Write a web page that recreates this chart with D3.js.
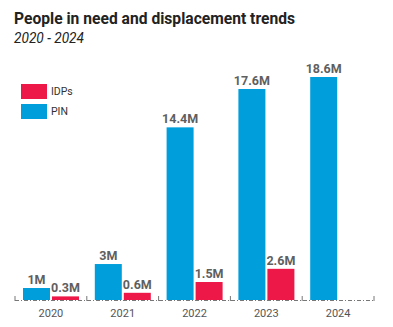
<!DOCTYPE html>
<html>
<head>
<meta charset="utf-8">
<script src="https://cdn.jsdelivr.net/npm/d3@7"></script>
<style>
  body { margin: 0; background: #fff; }
  svg { font-family: Roboto, "Liberation Sans", sans-serif; }
</style>
</head>
<body>
<svg id="svg" width="393" height="327"></svg>
<script>
const years = ['2020', '2021', '2022', '2023', '2024'];
const pin = [1, 3, 14.4, 17.6, 18.6];
const idps = [0.3, 0.6, 1.5, 2.6, null];
const pinLabels = ['1M', '3M', '14.4M', '17.6M', '18.6M'];
const idpLabels = ['0.3M', '0.6M', '1.5M', '2.6M', ''];

const blue = '#009edb';
const red = '#ed1847';

const svg = d3.select('#svg');

// title
svg.append('text')
    .attr('x', 14)
    .attr('y', 24)
    .attr('textLength', 281)
    .attr('lengthAdjust', 'spacingAndGlyphs')
    .style('font-size', '17px')
    .style('font-weight', 'bold')
    .style('fill', '#222')
    .text('People in need and displacement trends');

svg.append('text')
    .attr('x', 14)
    .attr('y', 43)
    .attr('textLength', 70)
    .attr('lengthAdjust', 'spacingAndGlyphs')
    .style('font-size', '14px')
    .style('font-style', 'italic')
    .style('fill', '#222')
    .text('2020 - 2024');

// scales
const baseline = 300;
const x = d3.scaleBand()
    .domain(years)
    .range([15, 374]);

const y = d3.scaleLinear()
    .domain([0, 18.6])
    .range([baseline, 77]);

const barW = 27;
const pinX = d => x(d) + 8;
const idpX = d => x(d) + 37;

// bars
svg.selectAll('.pin')
    .data(years)
    .enter().append('rect')
    .attr('x', d => pinX(d))
    .attr('y', (d, i) => y(pin[i]))
    .attr('width', barW)
    .attr('height', (d, i) => baseline - y(pin[i]))
    .style('fill', blue);

svg.selectAll('.idp')
    .data(years.filter((d, i) => idps[i] != null))
    .enter().append('rect')
    .attr('x', d => idpX(d))
    .attr('y', (d, i) => y(idps[i]))
    .attr('width', barW)
    .attr('height', (d, i) => baseline - y(idps[i]))
    .style('fill', red);

// value labels
const labelStyle = sel => sel
    .attr('text-anchor', 'middle')
    .style('font-size', '12.5px')
    .style('font-weight', 'bold')
    .style('fill', '#5f5f5f');

svg.selectAll('.pinLabel')
    .data(years)
    .enter().append('text')
    .attr('x', d => pinX(d) + barW / 2)
    .attr('y', (d, i) => y(pin[i]) - 4)
    .call(labelStyle)
    .text((d, i) => pinLabels[i]);

svg.selectAll('.idpLabel')
    .data(years)
    .enter().append('text')
    .attr('x', d => idpX(d) + barW / 2)
    .attr('y', (d, i) => y(idps[i] || 0) - 4)
    .call(labelStyle)
    .text((d, i) => idpLabels[i]);

// axis
const axis = svg.append('g')
    .attr('transform', `translate(0,${baseline})`)
    .call(d3.axisBottom(x).tickSize(0).tickPadding(9));

axis.select('.domain')
    .attr('d', `M15,0.5H374`)
    .style('stroke', '#777')
    .style('stroke-dasharray', '4,2,1,2');

axis.selectAll('.tick text')
    .style('font-family', 'Roboto, sans-serif')
    .style('font-size', '11px')
    .style('fill', '#555');

const bounds = years.map(d => x(d)).concat([x(years[years.length - 1]) + x.bandwidth()]);
axis.selectAll('.sep')
    .data(bounds)
    .enter().append('line')
    .attr('x1', d => d)
    .attr('x2', d => d)
    .attr('y1', -4)
    .attr('y2', 1)
    .style('stroke', '#777');

// legend
const legend = [['IDPs', red], ['PIN', blue]];
const lg = svg.selectAll('.legend')
    .data(legend)
    .enter().append('g')
    .attr('transform', (d, i) => `translate(21,${84 + i * 20})`);

lg.append('rect')
    .attr('width', 26)
    .attr('height', 15)
    .style('fill', d => d[1]);

lg.append('text')
    .attr('x', 30)
    .attr('y', 11)
    .style('font-size', '10.5px')
    .style('fill', '#333')
    .text(d => d[0]);
</script>
</body>
</html>
